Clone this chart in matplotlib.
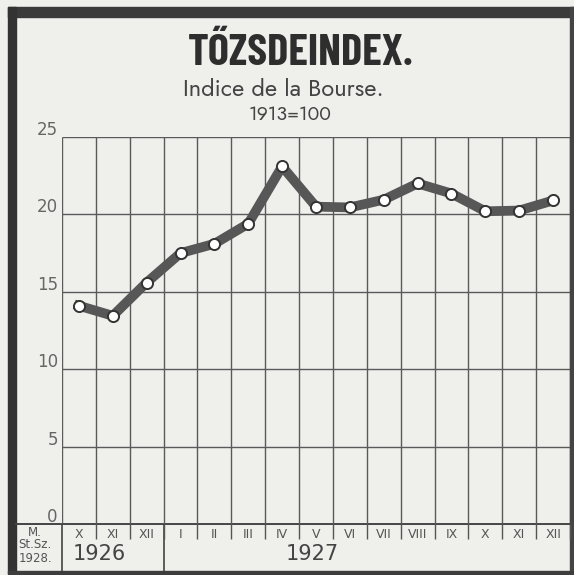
import matplotlib.pyplot as plt
from matplotlib.transforms import blended_transform_factory
from matplotlib.patches import Rectangle

# Tőzsdeindex 1926 X - 1927 XII (1913=100)
months = ['X', 'XI', 'XII', 'I', 'II', 'III', 'IV', 'V', 'VI', 'VII', 'VIII', 'IX', 'X', 'XI', 'XII']
index_values = [14.1, 13.45, 15.6, 17.5, 18.1, 19.4, 23.1, 20.5, 20.45, 20.95, 22.0, 21.35, 20.2, 20.25, 20.9]
y_ticks = [0, 5, 10, 15, 20, 25]
years = ['1926', '1927']
year_pos = [1.1, 7.4]
year_split = 3

W, H = 574, 575
paper = '#efefec'
ink = '#575757'

fig = plt.figure(figsize=(W / 100, H / 100), dpi=100, facecolor=paper)

# background / frame in pixel coords
bg = fig.add_axes([0, 0, 1, 1])
bg.set_xlim(0, W)
bg.set_ylim(H, 0)
bg.axis('off')
bg.add_patch(Rectangle((8, 7), 566, 10, color='#3a3a3a'))
bg.add_patch(Rectangle((8, 7), 8, 566, color='#333333'))
bg.add_patch(Rectangle((570, 7), 4, 566, color='#444444'))
bg.add_patch(Rectangle((8, 571), 566, 4, color='#3d3d3d'))

bg.text(301, 53, 'TŐZSDEINDEX.', ha='center', va='center', fontsize=32,
        fontweight='bold', color='#2e2e2e',
        family=['Barlow Condensed', 'DejaVu Sans'])
bg.text(283, 89, 'Indice de la Bourse.', ha='center', va='center', fontsize=17,
        color='#444', family=['Jost', 'Lato', 'DejaVu Sans'])
bg.text(290, 115, '1913=100', ha='center', va='center', fontsize=14,
        color='#444', family=['Jost', 'Lato', 'DejaVu Sans'])

# left box of the table
bg.text(35, 532, 'M.', ha='center', va='center', fontsize=8.5, color='#555')
bg.text(35, 545, 'St.Sz.', ha='center', va='center', fontsize=8.5, color='#555')
bg.text(35, 558, '1928.', ha='center', va='center', fontsize=8.5, color='#555')

# main chart
ax = fig.add_axes([62 / W, 1 - 524 / H, (570 - 62) / W, (524 - 137) / H])
ax.set_xlim(0, len(months))
ax.set_ylim(0, 25)
ax.patch.set_alpha(0)
for s in ax.spines.values():
    s.set_visible(False)
ax.set_xticks([])
ax.set_yticks([])

ax.vlines(range(len(months) + 1), 0, 25, color='#5a5a5a', lw=1.0)
ax.hlines(y_ticks, 0, len(months), color='#5a5a5a', lw=1.0)

xs = [i + 0.5 for i in range(len(months))]
ax.plot(xs, index_values, color=ink, lw=7, solid_joinstyle='round', zorder=3)
ax.plot(xs, index_values, 'o', ms=8, mfc='white', mec='#333', mew=1.4, zorder=4)

for v in y_ticks:
    ax.annotate(str(v), (0, v), xytext=(-3, 5), textcoords='offset points',
                ha='right', va='center', fontsize=12, color='#666',
                family=['DejaVu Sans'])

# table under the chart
tr = blended_transform_factory(ax.transData, fig.transFigure)
y_top = 1 - 524 / H
y_bot = 1 - 571 / H
bg.plot([16, 570], [524, 524], color='#444', lw=1.4)
ax.vlines([0, year_split], y_bot, y_top, transform=tr, color='#444', lw=1.2,
          clip_on=False)
ax.vlines(range(1, len(months) + 1), 1 - 539 / H, y_top, transform=tr,
          color='#555', lw=1.0, clip_on=False)
for i, m in enumerate(months):
    ax.text(i + 0.5, 1 - 534 / H, m, transform=tr, ha='center', va='center',
            fontsize=9, color='#555')
for yr, p in zip(years, year_pos):
    ax.text(p, 1 - 554 / H, yr, transform=tr, ha='center', va='center',
            fontsize=15, color='#444')

fig.savefig('out.png', dpi=100, facecolor=paper)
